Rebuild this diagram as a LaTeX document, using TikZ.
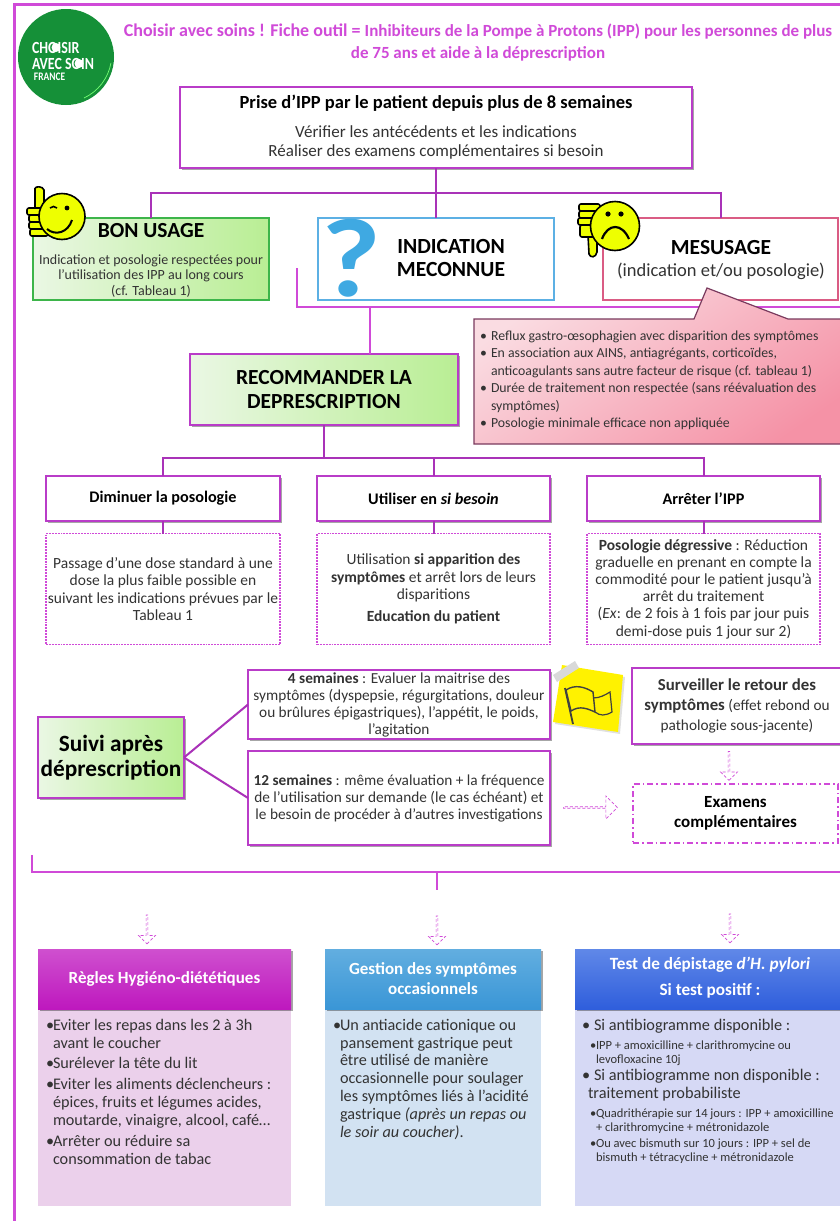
\documentclass[tikz,border=0pt]{standalone}
\usepackage{fontspec}
\setmainfont{Carlito}
\usetikzlibrary{shadows,shapes.arrows}
\definecolor{frameM}{HTML}{D04AD8}
\definecolor{linkM}{HTML}{A932B8}
\definecolor{boxM}{HTML}{B93CC8}
\definecolor{txt}{HTML}{333333}
\definecolor{grn}{HTML}{159038}
\definecolor{smile}{HTML}{EEFF00}
\definecolor{bodyA}{HTML}{EBD0EB}
\definecolor{bodyB}{HTML}{D2E2F2}
\definecolor{bodyC}{HTML}{D6D9F5}
\definecolor{headAt}{HTML}{CF50CF}
\definecolor{headAb}{HTML}{BE18BE}
\definecolor{headBt}{HTML}{62AEE0}
\definecolor{headBb}{HTML}{3A96D6}
\definecolor{headCt}{HTML}{6088E8}
\definecolor{headCb}{HTML}{2F5EDC}
\definecolor{grnL}{HTML}{EAF7E4}
\definecolor{grnR}{HTML}{B9EE94}
\definecolor{grnB}{HTML}{3DB54A}
\definecolor{bluB}{HTML}{5CB0E4}
\definecolor{redB}{HTML}{DA5C84}
\definecolor{qblue}{HTML}{3FA9E2}
\definecolor{pinkT}{HTML}{FADCE2}
\definecolor{pinkB}{HTML}{F592A6}
\definecolor{callB}{HTML}{7A3A5E}
\newcommand{\fs}[2]{\fontsize{#1}{#2}\selectfont}
\newcommand{\pbul}[1]{\makebox[#1][l]{•}}
\tikzset{
  x=1pt,y=-1pt,
  shad/.style={drop shadow={shadow xshift=2pt,shadow yshift=-2pt,fill=black,opacity=.35}},
  base/.style={inner sep=0pt,outer sep=0pt,align=center,text=txt},
  mbox/.style={base,draw=boxM,line width=2.4pt,fill=white,shad},
  greenbox/.style={base,draw=boxM,line width=2.4pt,left color=grnL,right color=grnR,shad,text=black},
  dotbox/.style={base,draw=frameM,line width=1.9pt,densely dotted,fill=white},
  link/.style={draw=linkM,line width=2pt},
  flink/.style={draw=frameM,line width=2pt},
  openarrow/.style={single arrow,draw=frameM,densely dashed,line width=.7pt,fill=white,inner sep=0pt,outer sep=0pt,
    minimum width=17pt,minimum height=29pt,single arrow head extend=3pt,single arrow head indent=0pt},
  head/.style={base,text=white,font=\bfseries\fs{17}{20},shad},
  body/.style={base,align=left,anchor=north west,text=black!80},
  face/.style={draw=black,line width=1.6pt,fill=smile},
  logotext/.style={base,text=white,anchor=west,xscale=.82,transform shape},
}
\begin{document}
\begin{tikzpicture}
\useasboundingbox (0,0) rectangle (840,1221);
\fill[white] (0,0) rectangle (840,1221);
% frame
\draw[frameM,line width=3pt] (840,4)--(14,4)--(14,1221);
% logo
\fill[grn] (66,57) circle (48);
\node[logotext,font=\bfseries\fs{17}{17}] (logoa) at (32,47.5) {CHOISIR};
\node[logotext,font=\bfseries\fs{17}{17}] (logob) at (32,63.5) {AVEC SOIN};
\node[logotext,font=\bfseries\fs{11.5}{12}] (logoc) at (34,77) {FRANCE};
\fill[white] (56,47.5) circle (4.5);
\fill[white] (79,63.5) circle (4.5);
\draw[green!55!white,line width=.7pt] (84,98) arc[start angle=65,end angle=10,radius=48];
% title
\node[base,text=frameM,font=\bfseries] (title) at (478,32) {\fs{18}{22}Choisir avec soins ! Fiche outil = \fs{17}{22}Inhibiteurs de la Pompe à Protons (IPP) pour les personnes de plus};
\node[base,text=frameM,font=\bfseries\fs{17}{22}] (titleb) at (478,54) {de 75 ans et aide à la déprescription};
% top box
\node[mbox,minimum width=512pt,minimum height=81pt] (top) at (436,127.5) {};
\node[base,text=black,font=\bfseries\fs{18.5}{20}] (toptitle) at (436,103) {Prise d’IPP par le patient depuis plus de 8 semaines};
\node[base,font=\fs{17}{19}] (toptext) at (436,142.5) {Vérifier les antécédents et les indications\\Réaliser des examens complémentaires si besoin};
% hub 1
\coordinate (hubA) at (436,193);
\node[base,minimum width=236pt,minimum height=82pt,draw=grnB,line width=1.8pt,left color=grnL,right color=grnR] (bon) at (151,259) {};
\node[base,draw=bluB,line width=1.8pt,fill=white,minimum width=236pt,minimum height=82pt] (indic) at (436,259) {};
\node[base,draw=redB,line width=1.8pt,fill=white,minimum width=235pt,minimum height=82pt] (mes) at (720.5,259) {};
\draw[link] (top.south)--(hubA);
\draw[link] (bon.north)|-(hubA);
\draw[link] (mes.north)|-(hubA);
\draw[link] (indic.north)--(hubA);
\node[base,text=black,font=\bfseries\fs{21.5}{22}] (bontitle) at (151,231) {BON USAGE};
\node[base,font=\fs{14}{15.2}] (bontext) at (151,276) {Indication et posologie respectées pour\\l'utilisation des IPP au long cours\\(cf. Tableau 1)};
\node[base,text=qblue,font=\bfseries\fs{112}{112},xscale=1.15,transform shape] (qmark) at (351,258) {?};
\node[base,text=black,font=\bfseries\fs{21.6}{23}] (indictext) at (451,258) {INDICATION\\MECONNUE};
\node[base,text=black,font=\bfseries\fs{21.5}{23}] (mestitle) at (721,248) {MESUSAGE};
\node[base,font=\fs{18.5}{22}] (mestext) at (721,271) {(indication et/ou posologie)};
% thumb up
\draw[face] (35,188.5) .. controls (35,186) and (43,186) .. (44,190) -- (44,212) -- (35,212) -- cycle;
\draw[face,rounded corners=2pt] (27,208) rectangle (47,215);
\draw[face,rounded corners=2pt] (29,215) rectangle (48,222);
\draw[face,rounded corners=2pt] (29,222) rectangle (48,229);
\draw[face,rounded corners=2pt] (30,229) rectangle (48,236);
\draw[face] (62,216.5) circle (23);
\draw[line width=2pt] (47,229) .. controls (55,236) and (68,233) .. (72,220);
\draw[line width=1.6pt] (50,208) .. controls (52,206) and (55,206) .. (57,208);
\fill[black] (67,208) circle (2.4);
% thumb down
\draw[face] (588,235) -- (597,235) -- (597,252) .. controls (596,258) and (590,258) .. (589,254) -- cycle;
\draw[face,rounded corners=2pt] (579,204) rectangle (600,211);
\draw[face,rounded corners=2pt] (579,211) rectangle (600,218);
\draw[face,rounded corners=2pt] (578,218) rectangle (600,225);
\draw[face,rounded corners=2pt] (580,225) rectangle (600,237);
\draw[face] (615,226) circle (24.5);
\draw[line width=2.2pt] (602,239) .. controls (608,223) and (622,223) .. (629,239);
\fill[black] (608,214) circle (2.6);
\fill[black] (621,214) circle (2.6);
% bracket under indication / mesusage
\coordinate (brA) at (297,268);
\coordinate (brB) at (297,307);
\coordinate (brC) at (840,307);
\coordinate (brD) at (370,307);
\node[greenbox,minimum width=268pt,minimum height=71pt,font=\bfseries\fs{21.5}{23.5}] (reco) at (324,389.5) {RECOMMANDER LA\\DEPRESCRIPTION};
\draw[flink] (brA)--(brB)--(brC);
\draw[flink,line width=2.4pt] (brD)--(brD |- reco.north);
% callout
\path[draw=callB,line width=1.2pt,top color=pinkT,bottom color=pinkB,shading angle=35]
  (474,319)--(694,319)--(707,288)--(788,319)--(860,319)--(860,444)--(474,444)--cycle;
\node[body,font=\fs{13.8}{17.4}] (calltext) at (480,331) {\pbul{11pt}Reflux gastro-œsophagien avec disparition des symptômes\\
\pbul{11pt}En association aux AINS, antiagrégants, corticoïdes,\\
\hspace*{11pt}anticoagulants sans autre facteur de risque (cf. tableau 1)\\
\pbul{11pt}Durée de traitement non respectée (sans réévaluation des\\
\hspace*{11pt}symptômes)\\
\pbul{11pt}Posologie minimale efficace non appliquée};
% three options
\coordinate (hubB) at (324,458);
\node[mbox,minimum width=234pt,minimum height=45pt,text=black,font=\bfseries\fs{16.2}{18}] (dim) at (163,498.5) {Diminuer la posologie};
\node[mbox,minimum width=233pt,minimum height=45pt,text=black,font=\bfseries\fs{16.2}{18}] (util) at (433.5,498.5) {Utiliser en \textit{si besoin}};
\node[mbox,minimum width=233pt,minimum height=45pt,text=black,font=\bfseries\fs{16.2}{18}] (arr) at (703.5,498.5) {Arrêter l’IPP};
\draw[link] (reco.south)--(hubB);
\draw[link] (dim.north)|-(hubB);
\draw[link] (arr.north)|-(hubB);
\draw[link] (util.north)--(util.north |- hubB);
\node[dotbox,minimum width=234pt,minimum height=111pt,font=\fs{15.5}{17.2}] (dimtext) at (163,589) {Passage d’une dose standard à une\\dose la plus faible possible en\\suivant les indications prévues par le\\Tableau 1};
\node[dotbox,minimum width=233pt,minimum height=111pt,font=\fs{15.5}{17.2}] (utiltext) at (433.5,589) {Utilisation \textbf{si apparition des}\\\textbf{symptômes} et arrêt lors de leurs\\disparitions\\[5pt]\textbf{Education du patient}};
\node[dotbox,minimum width=233pt,minimum height=111pt,font=\fs{15.5}{17.2}] (arrtext) at (703.5,589) {\textbf{Posologie dégressive} : Réduction\\graduelle en prenant en compte la\\commodité pour le patient jusqu’à\\arrêt du traitement\\(\textit{Ex}: de 2 fois à 1 fois par jour puis\\demi-dose puis 1 jour sur 2)};
\draw[link] (dim.south)--(dimtext.north);
\draw[link] (util.south)--(utiltext.north);
\draw[link] (arr.south)--(arrtext.north);
% suivi
\node[greenbox,minimum width=146pt,minimum height=81pt,font=\bfseries\fs{23.3}{25.5}] (suivi) at (111,757.5) {Suivi après\\déprescription};
\node[mbox,minimum width=302pt,minimum height=69pt,font=\fs{15.3}{17}] (four) at (399,704.5) {\textbf{4 semaines} : Evaluer la maitrise des\\symptômes (dyspepsie, régurgitations, douleur\\ou brûlures épigastriques), l'appétit, le poids,\\l'agitation};
\node[mbox,minimum width=302pt,minimum height=94pt,font=\fs{15.3}{17}] (twelve) at (399,798) {\textbf{12 semaines} : même évaluation + la fréquence\\de l’utilisation sur demande (le cas échéant) et\\le besoin de procéder à d’autres investigations};
\draw[link] (suivi.east)--(four.west);
\draw[link] (suivi.east)--(twelve.west);
% note + flag
\fill[black,opacity=.12] (564,667)--(625,677)--(620,734)--(555,724)--cycle;
\fill[yellow] (562,665)--(623,675)--(618,732)--(553,722)--cycle;
\fill[black!15] (553,675)--(575,661)--(579,668)--(557,682)--cycle;
\draw[black!75,line width=1.8pt] (565,688)--(573,724);
\draw[black!75,line width=1.2pt] (593,698) .. controls (600,698) and (605,695) .. (610,692) -- (612,712) .. controls (605,716) and (600,716) .. (595,712);
\draw[black!75,line width=1.4pt,fill=yellow] (566,690) .. controls (575,684) and (585,687) .. (593,692) -- (595,712) .. controls (588,709) and (580,705) .. (571,711) -- cycle;
\node[mbox,minimum width=210pt,minimum height=76pt,font=\fs{15.3}{20.3}] (surv) at (737,706) {\textbf{\fs{16.8}{20.3}Surveiller le retour des}\\\textbf{\fs{16.8}{20.3}symptômes} (effet rebond ou\\pathologie sous-jacente)};
\node[openarrow,rotate=-90] (arrS) at (729,765.5) {};
\node[base,draw=frameM,line width=1.6pt,dash pattern=on 6pt off 3pt on 1.6pt off 3pt,minimum width=205pt,minimum height=59pt,text=black,font=\bfseries\fs{17}{20.5}] (exa) at (735.5,813.5) {Examens\\complémentaires};
\node[openarrow,minimum width=23pt,minimum height=54pt,single arrow head extend=5.5pt] (arrR) at (590,807.5) {};
% lower bracket
\coordinate (brE) at (32,855);
\coordinate (brF) at (32,872);
\coordinate (brG) at (840,872);
\coordinate (brH) at (437,872);
\coordinate (brI) at (437,890);
\draw[flink] (brE)--(brF)--(brG);
\draw[flink] (brH)--(brI);
\node[openarrow,rotate=-90] (arrA) at (147,929) {};
\node[openarrow,rotate=-90] (arrB) at (437,930) {};
\node[openarrow,rotate=-90] (arrC) at (730,928) {};
% bottom columns
\fill[bodyA] (38,1009) rectangle (291,1206);
\fill[bodyB] (325,1009) rectangle (541,1206);
\fill[bodyC] (575,1009) rectangle (860,1206);
\node[head,top color=headAt,bottom color=headAb,minimum width=253pt,minimum height=60pt] (headA) at (164.5,979) {Règles Hygiéno-diététiques};
\node[head,top color=headBt,bottom color=headBb,minimum width=216pt,minimum height=60pt] (headB) at (433,979) {Gestion des symptômes\\occasionnels};
\node[head,top color=headCt,bottom color=headCb,minimum width=285pt,minimum height=60pt] (headC) at (717.5,979) {};
\node[base,text=white,font=\bfseries\fs{17.2}{26}] (headCtext) at (710,978) {Test de dépistage \textit{d’H. pylori}\\Si test positif :};
\node[body,font=\fs{16.2}{18}] (listA) at (46,1019) {\pbul{7pt}Eviter les repas dans les 2 à 3h\\
\hspace*{7pt}avant le coucher\\[2pt]
\pbul{7pt}Surélever la tête du lit\\[3pt]
\pbul{7pt}Eviter les aliments déclencheurs :\\
\hspace*{7pt}épices, fruits et légumes acides,\\
\hspace*{7pt}moutarde, vinaigre, alcool, café…\\[3pt]
\pbul{7pt}Arrêter ou réduire sa\\
\hspace*{7pt}consommation de tabac};
\node[body,font=\fs{16.2}{17.8}] (listB) at (333,1019) {\pbul{7pt}Un antiacide cationique ou\\
\hspace*{7pt}pansement gastrique peut\\
\hspace*{7pt}être utilisé de manière\\
\hspace*{7pt}occasionnelle pour soulager\\
\hspace*{7pt}les symptômes liés à l’acidité\\
\hspace*{7pt}gastrique \textit{(après un repas ou}\\
\hspace*{7pt}\textit{le soir au coucher)}.};
\node[body,font=\fs{16.3}{18}] (listC1) at (582,1019) {\pbul{12pt}Si antibiogramme disponible :};
\node[body,font=\fs{12.5}{14}] (listC2) at (590,1041) {\pbul{6pt}IPP + amoxicilline + clarithromycine ou\\\hspace*{6pt}levofloxacine 10j};
\node[body,font=\fs{16.3}{18}] (listC3) at (582,1069) {\pbul{12pt}Si antibiogramme non disponible :\\\hspace*{6pt}traitement probabiliste};
\node[body,font=\fs{12.5}{13.5}] (listC4) at (590,1109) {\pbul{6pt}Quadrithérapie sur 14 jours : IPP + amoxicilline\\\hspace*{6pt}+ clarithromycine + métronidazole};
\node[body,font=\fs{12.5}{13.5}] (listC5) at (590,1139) {\pbul{6pt}Ou avec bismuth sur 10 jours : IPP + sel de\\\hspace*{6pt}bismuth + tétracycline + métronidazole};
\end{tikzpicture}
\end{document}
